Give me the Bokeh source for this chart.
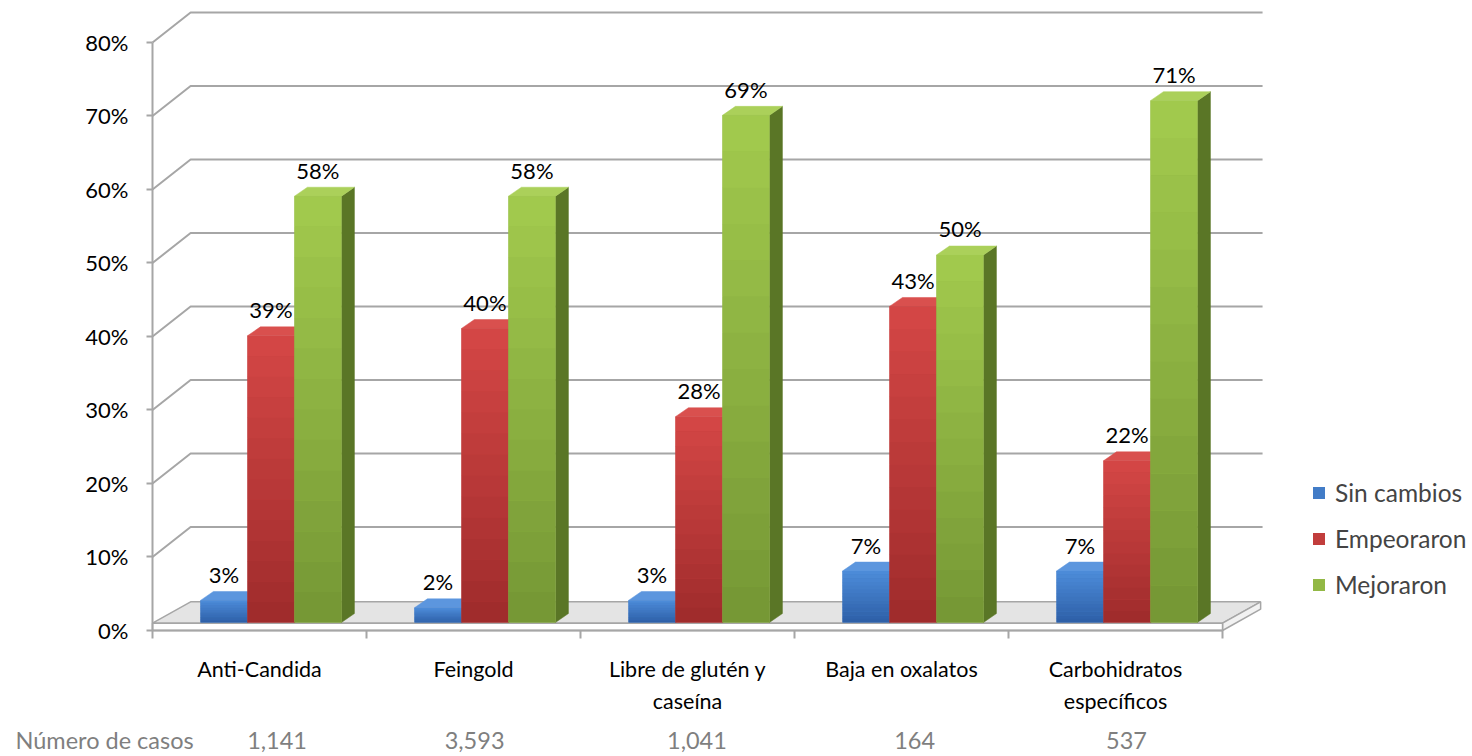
from bokeh.plotting import figure
from bokeh.models import (Range1d, FixedTicker, LinearAxis, PrintfTickFormatter,
                          ColumnDataSource, LabelSet, Legend, LegendItem)
from bokeh.core.properties import value
from bokeh.embed import file_html
from bokeh.resources import INLINE

# ---------------- data ----------------
categories = ["Anti-Candida", "Feingold", "Libre de glutén y\ncaseína",
              "Baja en oxalatos", "Carbohidratos\nespecíficos"]
series_names = ["Sin cambios", "Empeoraron", "Mejoraron"]
sin_cambios = [3, 2, 3, 7, 7]
empeoraron = [39, 40, 28, 43, 22]
mejoraron = [58, 58, 69, 50, 71]
casos = [1141, 3593, 1041, 164, 537]
casos_title = "Número de casos"
y_ticks = [0, 10, 20, 30, 40, 50, 60, 70, 80]

# ---------------- style ----------------
FONT = "Lato"
front_top = [(0x4c, 0x8b, 0xd8), (0xd3, 0x46, 0x45), (0xa1, 0xc9, 0x4d)]
front_bot = [(0x2e, 0x60, 0xa8), (0xa0, 0x2c, 0x2c), (0x76, 0x98, 0x35)]
side_cols = ["#26528f", "#872424", "#5a7626"]
top_cols = ["#5c96de", "#d9504e", "#abd05a"]
GRID = "#a6a6a6"
count_x = [0.582, 1.505, 2.544, 3.561, 4.551]   # horizontal placement of the case counts
title_x = -0.224                                 # placement of "Número de casos"

N = len(categories)
XSTART, XEND = -0.7103, 6.168     # frame covers the whole canvas
YSTART, YEND = -17.143, 85.714
GDX, GDY = 0.178, 4.08   # depth offset of the back wall
BACK_END = 5.187
OFF, BW = 0.224, 0.2196  # first bar offset inside category, bar width
SDX, SDY = 0.0607, 1.22  # bar depth
BASE = 1.09
NB = 14                  # gradient bands per bar


def hexcol(c):
    return "#%02x%02x%02x" % tuple(int(round(v)) for v in c)


def mix(a, b, t):
    return tuple(a[k] + (b[k] - a[k]) * t for k in range(3))


p = figure(width=1472, height=756, x_range=Range1d(XSTART, XEND), y_range=Range1d(YSTART, YEND),
           output_backend="svg", toolbar_location=None,
           min_border_left=0, min_border_right=0, min_border_top=0, min_border_bottom=0)
p.outline_line_color = None
p.xgrid.visible = False
p.ygrid.visible = False
p.background_fill_color = "white"

# ---------------- floor ----------------
p.patch([0, N, N + GDX, GDX], [1.0, 1.0, 3.9, 3.9], fill_color="#e4e4e4",
        line_color=GRID, line_width=1.5)
p.patch([N, N + GDX, N + GDX, N], [0, 2.9, 3.9, 1.0], fill_color="#f2f2f2",
        line_color=GRID, line_width=1.5)
p.quad(left=[0], right=[N], bottom=[0], top=[1.0], fill_color="white",
       line_color=GRID, line_width=1.5)

# ---------------- gridlines ----------------
gx, gy = [], []
for v in y_ticks[1:]:
    gx.append([0, GDX, BACK_END])
    gy.append([v, v + GDY, v + GDY])
p.multi_line(gx, gy, line_color=GRID, line_width=2)

# ---------------- bars ----------------
renderers = []
label_x, label_y, label_t = [], [], []
for si, vals in enumerate([sin_cambios, empeoraron, mejoraron]):
    lefts = [c + OFF + si * BW for c in range(N)]
    rights = [l + BW for l in lefts]
    tops = [BASE + v for v in vals]
    # side faces
    sx = [[r, r + SDX, r + SDX, r] for r in rights]
    sy = [[BASE, BASE + SDY, t + SDY, t] for t in tops]
    p.patches(sx, sy, fill_color=side_cols[si], line_color=side_cols[si], line_width=0.5)
    # top faces
    tx = [[l, r, r + SDX, l + SDX] for l, r in zip(lefts, rights)]
    ty = [[t, t, t + SDY, t + SDY] for t in tops]
    p.patches(tx, ty, fill_color=top_cols[si], line_color=top_cols[si], line_width=0.5)
    # front faces (base, used for legend)
    r = p.quad(left=lefts, right=rights, bottom=[BASE] * N, top=tops,
               fill_color=hexcol(mix(front_top[si], front_bot[si], 0.35)), line_color=None)
    renderers.append(r)
    # vertical gradient bands
    bl, br, bb, bt, bc = [], [], [], [], []
    for l, rr, t in zip(lefts, rights, tops):
        h = (t - BASE) / NB
        for k in range(NB):
            bl.append(l)
            br.append(rr)
            bt.append(t - k * h)
            bb.append(t - (k + 1) * h - (0.02 if k < NB - 1 else 0))
            bc.append(hexcol(mix(front_top[si], front_bot[si], k / (NB - 1))))
    p.quad(left=bl, right=br, bottom=bb, top=bt, fill_color=bc, line_color=None)
    for l, t, v in zip(lefts, tops, vals):
        label_x.append(l + BW / 2)
        label_y.append(t)
        label_t.append(f"{v}%")

src = ColumnDataSource(dict(x=label_x, y=label_y, t=label_t))
p.add_layout(LabelSet(x="x", y="y", text="t", source=src, y_offset=26,
                      text_align="center", text_baseline="middle",
                      text_font=value(FONT), text_font_size=value("22px"),
                      text_color=value("black")))

# ---------------- axes ----------------
ya = p.yaxis[0]
ya.fixed_location = 0
ya.ticker = FixedTicker(ticks=y_ticks)
ya.formatter = PrintfTickFormatter(format="%d%%")
ya.bounds = (0, 80)
ya.axis_line_color = GRID
ya.axis_line_width = 2
ya.major_tick_line_color = GRID
ya.major_tick_line_width = 2
ya.major_tick_out = 6
ya.major_tick_in = 0
ya.minor_tick_line_color = None
ya.major_label_standoff = 18
ya.major_label_text_font = FONT
ya.major_label_text_font_size = "22px"
ya.major_label_text_color = "black"

centers = [c + 0.5 for c in range(N)]
xa = p.xaxis[0]
xa.fixed_location = 0
xa.ticker = FixedTicker(ticks=centers, minor_ticks=list(range(N + 1)))
xa.major_label_overrides = {c: name for c, name in zip(centers, categories)}
xa.bounds = (0, N)
xa.axis_line_color = GRID
xa.axis_line_width = 2
xa.major_tick_line_color = None
xa.major_tick_out = 8
xa.major_tick_in = 0
xa.minor_tick_line_color = GRID
xa.minor_tick_line_width = 2
xa.minor_tick_out = 8
xa.minor_tick_in = 0
xa.major_label_standoff = 18
xa.major_label_text_font = FONT
xa.major_label_text_font_size = "21.5px"
xa.major_label_text_color = "black"

ticks2 = [title_x] + count_x
labels2 = {title_x: casos_title}
labels2.update({c: f"{n:,}" for c, n in zip(count_x, casos)})
xa2 = LinearAxis(ticker=FixedTicker(ticks=ticks2), major_label_overrides=labels2)
xa2.fixed_location = 0
xa2.axis_line_color = None
xa2.major_tick_line_color = None
xa2.minor_tick_line_color = None
xa2.major_tick_out = 0
xa2.major_tick_in = 0
xa2.major_label_standoff = 96
xa2.major_label_text_font = FONT
xa2.major_label_text_font_size = "23.5px"
xa2.major_label_text_color = "#7f7f7f"
p.add_layout(xa2, "below")

# ---------------- legend ----------------
legend = Legend(items=[LegendItem(label=n, renderers=[r]) for n, r in zip(series_names, renderers)],
                location=(1311, 157), label_text_font=FONT, label_text_font_size="24.5px",
                glyph_width=15, glyph_height=15, label_standoff=9, spacing=16, label_height=30,
                padding=0, margin=0, border_line_color=None, background_fill_alpha=0)
p.add_layout(legend)

open("out.html", "w").write(file_html(p, INLINE))
